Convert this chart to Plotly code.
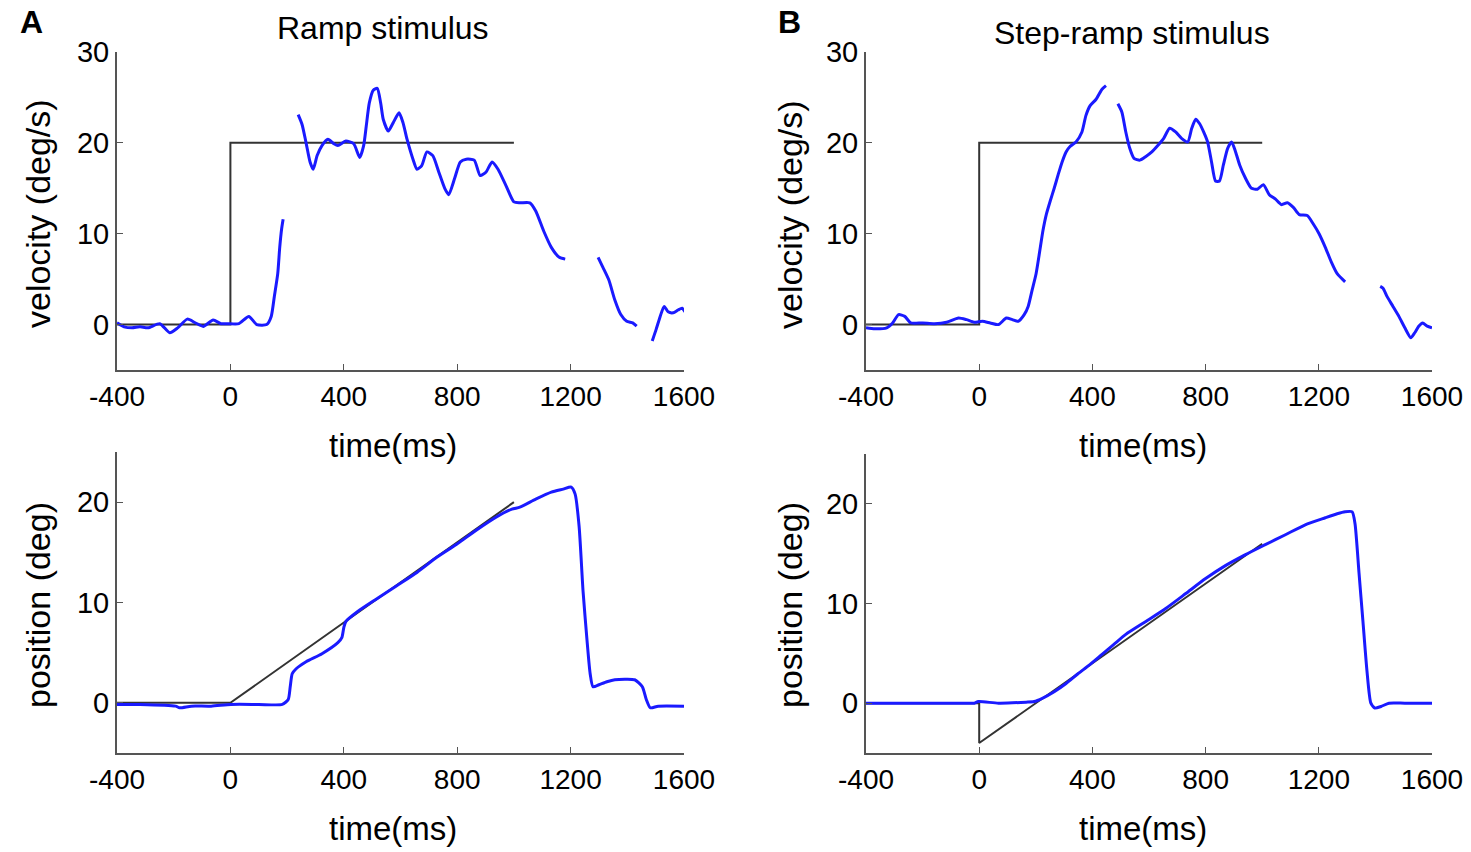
import plotly.graph_objects as go

# ---- data ----
# stimulus traces (black)
stim_vel_t = [-400, 0, 0, 1000]
stim_vel_v = [0, 0, 20, 20]
stim_posA_t = [-400, 0, 1000]
stim_posA_p = [0, 0, 20]
stim_posB_t = [-400, 0, 0, 1000]
stim_posB_p = [0, 0, -4, 16]

# Panel A eye velocity (None = gap)
velA_t = [-400, -375, -347, -319, -291, -249, -214, -186, -152, -124, -96, -61, -33, -8, 30, 65, 93, 128,
          144, 155, 167, 174, 181, 186, None,
          239, 253, 267, 281, 292, 306, 323, 344, 365, 379, 407, 435, 456, 470, 479, 490, 504, 518, 530,
          539, 557, 574, 595, 609, 623, 644, 658, 675, 693, 714, 735, 756, 770, 791, 811, 832, 860, 881,
          902, 923, 944, 972, 1000, 1021, 1056, 1077, 1105, 1132, 1160, 1181, None,
          1297, 1314, 1335, 1356, 1377, 1398, 1419, 1433, None,
          1488, 1502, 1516, 1530, 1544, 1562, 1579, 1593, 1604]
velA_v = [0.2, -0.25, -0.36, -0.25, -0.36, 0.1, -0.9, -0.36, 0.6, 0.2, -0.2, 0.5, 0.1, 0.1, 0.1, 0.9, 0, 0,
          0.9, 3.1, 5.6, 8.5, 10.6, 11.6, None,
          23.1, 22.0, 20.0, 17.9, 17.1, 18.6, 19.7, 20.4, 19.9, 19.7, 20.2, 19.9, 18.4, 19.7, 21.8, 24.4,
          25.8, 26.0, 24.4, 22.6, 21.3, 22.2, 23.3, 22.2, 20.4, 18.2, 17.1, 17.5, 19.0, 18.6, 16.8, 15.0,
          14.3, 16.1, 17.9, 18.2, 18.1, 16.4, 16.8, 17.9, 17.1, 15.3, 13.5, 13.4, 13.4, 12.5, 10.3, 8.5,
          7.4, 7.2, None,
          7.4, 6.3, 4.9, 2.7, 1.1, 0.36, 0.18, -0.18, None,
          -1.8, -0.5, 0.9, 2.0, 1.4, 1.3, 1.6, 1.8, 1.4]

# Panel B eye velocity
velB_t = [-400, -369, -327, -306, -285, -263, -242, -200, -158, -115, -73, -45, -17, 11, 39, 68, 96, 117,
          138, 159, 173, 187, 201, 216, 225, 237, 251, 265, 279, 293, 307, 321, 342, 363, 377, 392, 413,
          434, 448, None,
          490, 504, 518, 532, 547, 568, 589, 610, 631, 652, 673, 694, 715, 737, 751, 765, 779, 793, 807,
          821, 835, 849, 863, 878, 892, 906, 920, 941, 962, 983, 1004, 1025, 1047, 1068, 1089, 1110, 1131,
          1159, 1180, 1201, 1223, 1244, 1265, 1293, None,
          1417, 1427, 1441, 1462, 1483, 1504, 1525, 1539, 1553, 1567, 1583, 1600]
velB_v = [-0.36, -0.47, -0.36, 0.18, 1.09, 0.9, 0.18, 0.18, 0.1, 0.25, 0.72, 0.54, 0.25, 0.36, 0.18, 0,
          0.72, 0.54, 0.36, 1.09, 2.0, 3.8, 5.6, 8.5, 10.3, 12.1, 13.6, 15.0, 16.5, 17.9, 19.0, 19.6, 20.1,
          21.2, 23.0, 24.1, 24.8, 25.9, 26.3, None,
          24.3, 23.4, 21.2, 19.4, 18.3, 18.1, 18.5, 19.0, 19.7, 20.5, 21.6, 21.2, 20.5, 20.1, 21.6, 22.6,
          22.1, 21.2, 20.1, 17.9, 15.8, 15.8, 17.6, 19.4, 20.1, 19.0, 17.6, 16.1, 15.0, 14.9, 15.4, 14.3,
          13.8, 13.2, 13.4, 12.9, 12.1, 12.0, 11.1, 10.0, 8.5, 6.9, 5.6, 4.7, None,
          4.2, 4.0, 3.1, 2.0, 0.9, -0.36, -1.45, -0.9, -0.18, 0.18, -0.18, -0.36]

# Panel A eye position
posA_t = [-400, -319, -193, -179, -138, -68, 2, 100, 183, 204, 211, 218, 232, 267, 323, 379, 393, 400,
          407, 449, 518, 588, 658, 728, 798, 867, 937, 993, 1021, 1077, 1132, 1174, 1202, 1216, 1230,
          1244, 1258, 1269, 1279, 1300, 1328, 1356, 1426, 1453, 1467, 1481, 1509, 1600]
posA_p = [-0.16, -0.16, -0.33, -0.49, -0.33, -0.33, -0.16, -0.16, -0.16, 0.33, 1.6, 2.9, 3.4, 4.1, 4.9,
          6.0, 6.5, 7.5, 8.1, 9.1, 10.4, 11.7, 13.0, 14.5, 15.8, 17.2, 18.5, 19.3, 19.5, 20.3, 21.0, 21.3,
          21.5, 20.8, 17.6, 11.1, 6.2, 2.9, 1.6, 1.8, 2.1, 2.3, 2.3, 1.6, 0.33, -0.49, -0.33, -0.33]

# Panel B eye position
posB_t = [-400, -45, -17, -3, 68, 166, 194, 223, 265, 307, 349, 392, 434, 476, 518, 589, 659, 730, 800,
          870, 941, 1011, 1082, 1152, 1223, 1265, 1293, 1318, 1328, 1342, 1356, 1370, 1384, 1398, 1420,
          1448, 1504, 1600]
posB_p = [0, 0, 0, 0.16, 0, 0.1, 0.16, 0.49, 1.15, 1.97, 2.95, 3.9, 4.9, 5.9, 6.9, 8.2, 9.5, 11.0, 12.5,
          13.8, 14.9, 15.9, 16.9, 17.9, 18.6, 19.0, 19.2, 19.2, 18.0, 13.1, 8.2, 3.3, 0, -0.49, -0.33,
          0, 0, 0]

x_ticks = [-400, 0, 400, 800, 1200, 1600]
x_labels = ['-400', '0', '400', '800', '1200', '1600']
vel_ticks = [0, 10, 20, 30]
pos_ticks = [0, 10, 20]

# ---- styling ----
FONT = "Liberation Sans, Arial, sans-serif"
BLUE = '#1a1aff'
BLACK = '#333333'
AXIS = '#555555'
W, H = 1471, 852


def px_x(a, b):
    return [a / W, b / W]


def px_y(top, bottom):
    return [1 - bottom / H, 1 - top / H]


fig = go.Figure()

panels = [
    # (xaxis id, yaxis id, stim t, stim y, eye t, eye y)
    ('x', 'y', stim_vel_t, stim_vel_v, velA_t, velA_v),
    ('x2', 'y2', stim_vel_t, stim_vel_v, velB_t, velB_v),
    ('x3', 'y3', stim_posA_t, stim_posA_p, posA_t, posA_p),
    ('x4', 'y4', stim_posB_t, stim_posB_p, posB_t, posB_p),
]

for xa, ya, st, sy, et, ey in panels:
    fig.add_trace(go.Scatter(x=st, y=sy, mode='lines', xaxis=xa, yaxis=ya,
                             line=dict(color=BLACK, width=2), showlegend=False))
    fig.add_trace(go.Scatter(x=et, y=ey, mode='lines', xaxis=xa, yaxis=ya, connectgaps=False,
                             line=dict(color=BLUE, width=3, shape='spline', smoothing=0.6),
                             showlegend=False))

xcommon = dict(range=[-400, 1600], tickvals=x_ticks, ticktext=x_labels, ticks='inside', ticklen=6,
               tickcolor=AXIS, showline=True, linecolor=AXIS, linewidth=2, showgrid=False,
               zeroline=False, automargin=False,
               tickfont=dict(family=FONT, size=28, color='black'))
ycommon = dict(ticks='inside', ticklen=6, tickcolor=AXIS, showline=True, linecolor=AXIS, linewidth=2,
               showgrid=False, zeroline=False, automargin=False,
               tickfont=dict(family=FONT, size=29, color='black'))

fig.update_layout(
    template='none',
    width=W, height=H,
    paper_bgcolor='white', plot_bgcolor='white',
    margin=dict(l=0, r=0, t=0, b=0),
    xaxis=dict(domain=px_x(117, 684), anchor='y', **xcommon),
    yaxis=dict(domain=px_y(52, 370), anchor='x', range=[-5, 30], tickvals=vel_ticks, **ycommon),
    xaxis2=dict(domain=px_x(866, 1432), anchor='y2', **xcommon),
    yaxis2=dict(domain=px_y(52, 370), anchor='x2', range=[-5, 30], tickvals=vel_ticks, **ycommon),
    xaxis3=dict(domain=px_x(117, 684), anchor='y3', **xcommon),
    yaxis3=dict(domain=px_y(452, 753), anchor='x3', range=[-5, 25], tickvals=pos_ticks, **ycommon),
    xaxis4=dict(domain=px_x(866, 1432), anchor='y4', **xcommon),
    yaxis4=dict(domain=px_y(454, 753), anchor='x4', range=[-5, 25], tickvals=pos_ticks, **ycommon),
)


def note(text, x, y, size=32, angle=0, bold=False):
    fig.add_annotation(text=f"<b>{text}</b>" if bold else text, x=x / W, y=1 - y / H,
                       xref='paper', yref='paper', showarrow=False, textangle=angle,
                       xanchor='center', yanchor='middle',
                       font=dict(family=FONT, size=size, color='black'))


note("A", 32, 22, size=32, bold=True)
note("B", 790, 22, size=32, bold=True)
note("Ramp stimulus", 383, 28, size=32)
note("Step-ramp stimulus", 1132, 33, size=32)
note("velocity (deg/s)", 38, 214, size=34, angle=-90)
note("velocity (deg/s)", 790, 214, size=34, angle=-90)
note("position (deg)", 38, 605, size=34, angle=-90)
note("position (deg)", 790, 605, size=34, angle=-90)
note("time(ms)", 393, 445, size=33)
note("time(ms)", 1143, 445, size=33)
note("time(ms)", 393, 828, size=33)
note("time(ms)", 1143, 828, size=33)

# drop the default 8px body margin so the figure fills the window exactly
fig.write_html("out.html", config={'displayModeBar': False},
               post_script="document.body.style.margin='0';document.body.style.overflow='hidden';")
